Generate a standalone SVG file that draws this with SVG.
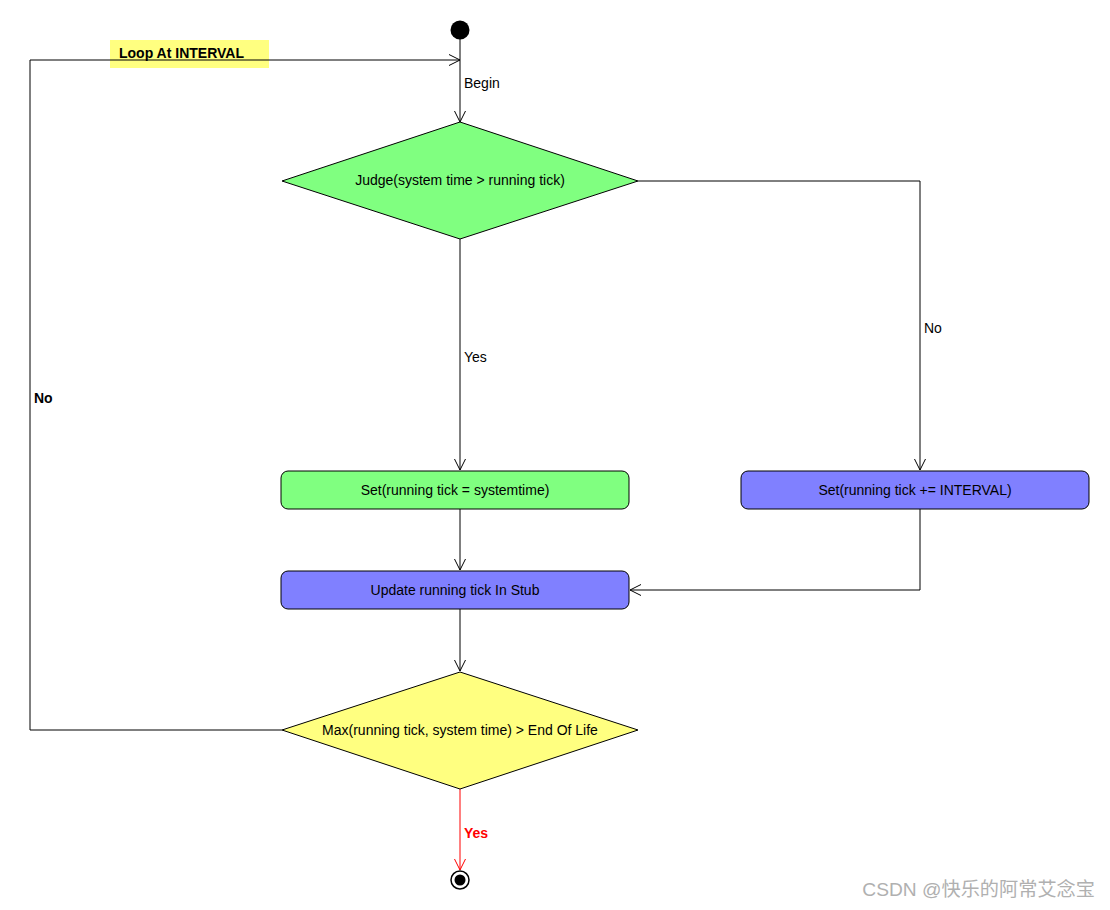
<svg xmlns="http://www.w3.org/2000/svg" width="1110" height="910" viewBox="0 0 1110 910">
<style>
.t{font-family:"Liberation Sans",Arial,sans-serif;font-size:14px;fill:#000}
.b{font-weight:bold}
.c{text-anchor:middle}
.ln{fill:none;stroke:#000;stroke-width:1}
.red{stroke:#ff0000}
.shape{stroke:#000;stroke-width:1}
</style>
<defs>
<marker id="ar" markerWidth="14" markerHeight="14" refX="12" refY="7" orient="auto" markerUnits="userSpaceOnUse">
<path d="M1,1.5 L12,7 L1,12.5" fill="none" stroke="#000" stroke-width="1"/>
</marker>
<marker id="arr" markerWidth="14" markerHeight="14" refX="12" refY="7" orient="auto" markerUnits="userSpaceOnUse">
<path d="M1,1.5 L12,7 L1,12.5" fill="none" stroke="#ff0000" stroke-width="1"/>
</marker>
</defs>
<rect width="1110" height="910" fill="#fff"/>
<g id="connectors">
<path class="ln" d="M460,39 L460,122" marker-end="url(#ar)"/>
<path class="ln" d="M282,730 L30,730 L30,60 L460,60" marker-end="url(#ar)"/>
<path class="ln" d="M460,239 L460,470" marker-end="url(#ar)"/>
<path class="ln" d="M638,181 L920,181 L920,470" marker-end="url(#ar)"/>
<path class="ln" d="M460,509 L460,570" marker-end="url(#ar)"/>
<path class="ln" d="M920,509 L920,590 L630,590" marker-end="url(#ar)"/>
<path class="ln" d="M460,609 L460,671" marker-end="url(#ar)"/>
<path class="ln red" d="M460,789 L460,870" marker-end="url(#arr)"/>
<text class="t" x="464" y="88">Begin</text>
<text class="t" x="464" y="362">Yes</text>
<text class="t" x="924" y="333">No</text>
<text class="t b" x="34" y="403">No</text>
<text class="t b" x="464" y="838" style="fill:#ff0000">Yes</text>
</g>
<g id="loop-label">
<rect x="110" y="40" width="159" height="28" fill="#ffff80"/>
<path class="ln" d="M110,60 L269,60"/>
<text class="t b" x="119" y="58">Loop At INTERVAL</text>
</g>
<g id="start">
<circle cx="460" cy="30" r="9.5" fill="#000"/>
</g>
<g id="judge">
<polygon class="shape" points="460,122 638,181 460,239 282,181" fill="#80ff80"/>
<text class="t c" x="460" y="185">Judge(system time &gt; running tick)</text>
</g>
<g id="set-systemtime">
<rect class="shape" x="281" y="471" width="348" height="38" rx="7" fill="#80ff80"/>
<text class="t c" x="455" y="495">Set(running tick = systemtime)</text>
</g>
<g id="set-interval">
<rect class="shape" x="741" y="471" width="348" height="38" rx="7" fill="#8080ff"/>
<text class="t c" x="915" y="495">Set(running tick += INTERVAL)</text>
</g>
<g id="update-stub">
<rect class="shape" x="281" y="571" width="348" height="38" rx="7" fill="#8080ff"/>
<text class="t c" x="455" y="595">Update running tick In Stub</text>
</g>
<g id="max-check">
<polygon class="shape" points="460,672 638,730 460,789 282,730" fill="#ffff80"/>
<text class="t c" x="460" y="735">Max(running tick, system time) &gt; End Of Life</text>
</g>
<g id="end">
<circle cx="460" cy="880" r="9" fill="#fff" stroke="#000" stroke-width="1.5"/>
<circle cx="460" cy="880" r="5.5" fill="#000"/>
</g>
<text x="1095" y="896" text-anchor="end" style="font-family:'Liberation Sans','Noto Sans CJK SC',sans-serif;font-size:19.2px;fill:#b0b0b0">CSDN @快乐的阿常艾念宝</text>
</svg>
